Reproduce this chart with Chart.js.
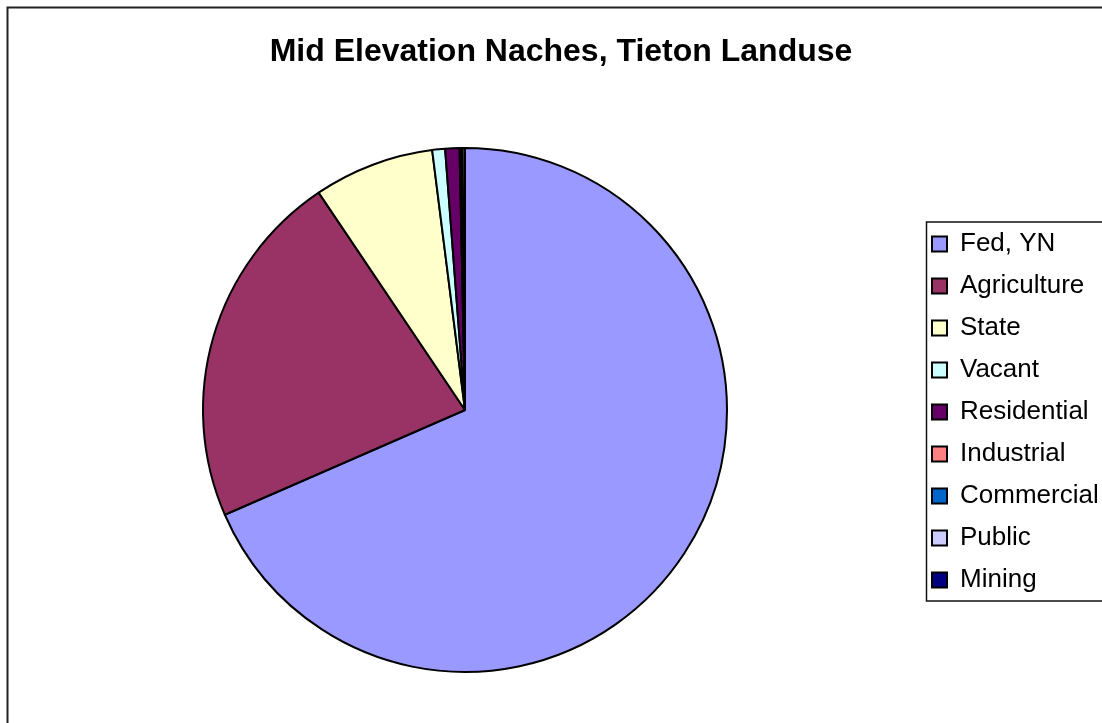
<!DOCTYPE html>
<html>
<head>
<meta charset="utf-8">
<script src="https://cdn.jsdelivr.net/npm/chart.js@4/dist/chart.umd.min.js"></script>
<style>
  html, body { margin: 0; padding: 0; background: #ffffff; overflow: hidden; }
  #wrap { position: relative; width: 1102px; height: 723px; }
  canvas { display: block; }
</style>
</head>
<body>
<div id="wrap"><canvas id="c" width="1102" height="723"></canvas></div>
<script>
// ---- data ----
const chartTitle = 'Mid Elevation Naches, Tieton Landuse';
const categories = ['Fed, YN', 'Agriculture', 'State', 'Vacant', 'Residential', 'Industrial', 'Commercial', 'Public', 'Mining'];
const shares = [68.44, 22.11, 7.43, 0.79, 0.88, 0.10, 0.05, 0.15, 0.03];
const sliceColors = ['#9999FF', '#993366', '#FFFFCC', '#CCFFFF', '#660066', '#FF8080', '#0066CC', '#CCCCFF', '#000080'];

const FONT = '"Liberation Sans", Arial, Helvetica, sans-serif';

const layoutPlugin = {
  id: 'fixLayout',
  afterLayout(chart) {
    const tb = chart.titleBlock;
    if (tb) { tb.left = 20; tb.right = 1102; tb.width = 1082; }
    const lg = chart.legend;
    if (lg) {
      const w = lg.width;
      lg.left = 916; lg.right = 916 + w;
      lg.top = 83; lg.bottom = 741; lg.height = 658;
    }
    chart.chartArea = { left: 165, right: 765, top: 110, bottom: 710, width: 600, height: 600 };
  },
  beforeDraw(chart) {
    const ctx = chart.ctx;
    ctx.save();
    ctx.strokeStyle = '#222222';
    ctx.lineWidth = 2;
    ctx.strokeRect(7.5, 7.5, 1300, 900);
    ctx.restore();
  },
  afterDraw(chart) {
    const lg = chart.legend;
    if (!lg) return;
    const ctx = chart.ctx;
    const cy = (lg.top + lg.bottom) / 2;
    ctx.save();
    ctx.strokeStyle = '#111111';
    ctx.lineWidth = 1.5;
    ctx.strokeRect(926.5, cy - 190, 400, 379);
    ctx.restore();
  }
};

new Chart(document.getElementById('c'), {
  type: 'pie',
  data: {
    labels: categories,
    datasets: [{
      data: shares,
      backgroundColor: sliceColors,
      borderColor: '#000000',
      borderWidth: 2,
      hoverOffset: 0,
      radius: 262,
      clip: false
    }]
  },
  options: {
    responsive: false,
    animation: false,
    events: [],
    layout: { padding: 0 },
    plugins: {
      title: {
        display: true,
        text: chartTitle,
        color: '#000000',
        font: { family: FONT, size: 32, weight: 'bold' },
        padding: { top: 33, bottom: 10 }
      },
      legend: {
        display: true,
        position: 'right',
        labels: {
          color: '#000000',
          font: { family: FONT, size: 26 },
          boxWidth: 15,
          boxHeight: 15,
          padding: 16
        }
      },
      tooltip: { enabled: false }
    }
  },
  plugins: [layoutPlugin]
});
</script>
</body>
</html>
